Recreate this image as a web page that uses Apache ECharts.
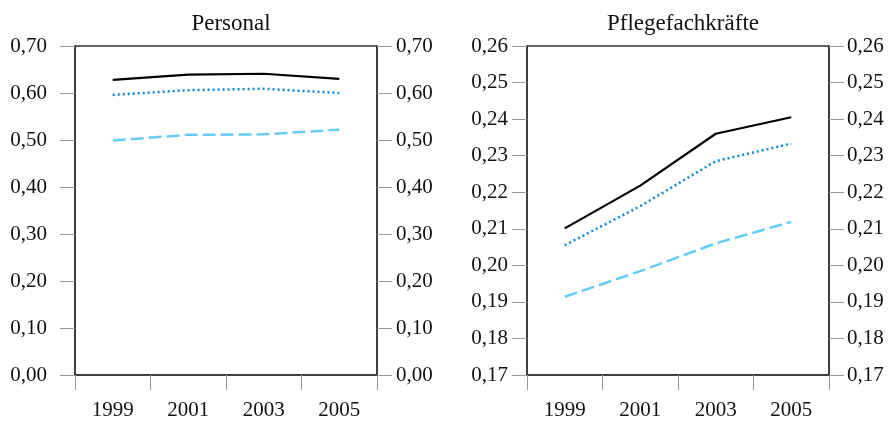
<!DOCTYPE html>
<html>
<head>
<meta charset="utf-8">
<script src="https://cdn.jsdelivr.net/npm/echarts@6/dist/echarts.min.js"></script>
<style>html,body{margin:0;padding:0;background:#fff}#c{width:889px;height:421px}</style>
</head>
<body>
<div id="c"></div>
<script>
const years = ['1999', '2001', '2003', '2005'];
const titles = ['Personal', 'Pflegefachkräfte'];

const personalBlack = [0.628, 0.639, 0.641, 0.630];
const personalBlue = [0.596, 0.606, 0.609, 0.600];
const personalLight = [0.499, 0.511, 0.512, 0.522];

const pflegeBlack = [0.2101, 0.2218, 0.2360, 0.2405];
const pflegeBlue = [0.2055, 0.2162, 0.2285, 0.2333];
const pflegeLight = [0.1914, 0.1984, 0.2060, 0.2119];

const yRanges = [
  {min: 0, max: 0.70, interval: 0.10},
  {min: 0.17, max: 0.26, interval: 0.01}
];

const FONT = 'Liberation Serif';
const fmt = v => v.toFixed(2).replace('.', ',');

const grids = [
  {left: 75, right: 512, top: 46, bottom: 42, show: true, borderColor: '#333', borderWidth: 1.5, backgroundColor: 'transparent'},
  {left: 527, right: 60, top: 46, bottom: 42, show: true, borderColor: '#333', borderWidth: 1.5, backgroundColor: 'transparent'}
];

const xAxes = [0, 1].map(i => ({
  type: 'category', gridIndex: i, data: years, boundaryGap: true,
  axisLine: {lineStyle: {color: '#333', width: 1.5}},
  axisTick: {show: true, length: 15, lineStyle: {color: '#999', width: 1}},
  axisLabel: {fontFamily: FONT, fontSize: 21, color: '#111', margin: 25}
}));

const labelMargins = [[28, 19], [19, 18]];
const yAxes = [];
[0, 1].forEach(i => {
  ['left', 'right'].forEach((pos, j) => {
    yAxes.push({
      type: 'value', gridIndex: i, position: pos,
      min: yRanges[i].min, max: yRanges[i].max, interval: yRanges[i].interval,
      splitLine: {show: false},
      axisLine: {show: true, lineStyle: {color: '#333', width: 1.5}},
      axisTick: {show: true, length: 15, lineStyle: {color: '#999', width: 1}},
      axisLabel: {fontFamily: FONT, fontSize: 21, color: '#111', margin: labelMargins[i][j], formatter: fmt}
    });
  });
});

function mk(data, grid, color, type, width) {
  return {
    type: 'line', xAxisIndex: grid, yAxisIndex: grid * 2, data: data,
    symbol: 'none', smooth: false, animation: false,
    lineStyle: {color: color, type: type, width: width}
  };
}

const chart = echarts.init(document.getElementById('c'));
chart.setOption({
  animation: false,
  title: [
    {text: titles[0], left: 226, top: 7, textAlign: 'center', textStyle: {fontFamily: FONT, fontSize: 23, fontWeight: 'normal', color: '#111'}},
    {text: titles[1], left: 678, top: 7, textAlign: 'center', textStyle: {fontFamily: FONT, fontSize: 23, fontWeight: 'normal', color: '#111'}}
  ],
  grid: grids,
  xAxis: xAxes,
  yAxis: yAxes,
  series: [
    mk(personalBlack, 0, '#000000', 'solid', 2.2),
    mk(personalBlue, 0, '#0a86d6', [2, 3], 2.5),
    mk(personalLight, 0, '#66ccf7', [13, 5], 2.5),
    mk(pflegeBlack, 1, '#000000', 'solid', 2.2),
    mk(pflegeBlue, 1, '#0a86d6', [2, 3], 2.5),
    mk(pflegeLight, 1, '#66ccf7', [13, 5], 2.5)
  ]
});
</script>
</body>
</html>
